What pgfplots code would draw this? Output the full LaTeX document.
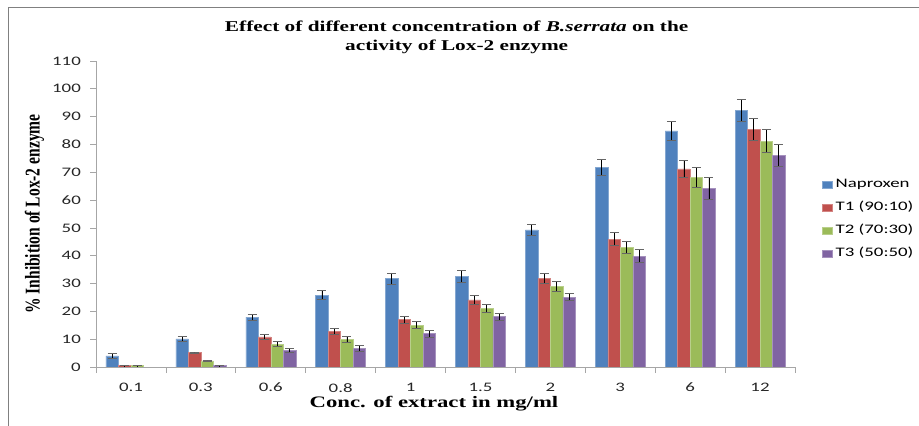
\documentclass[border=0pt]{standalone}
\usepackage{pgfplots}
\usepackage{pgfplotstable}
\pgfplotsset{compat=1.18}
\usepackage{fontspec}
\setmainfont{Liberation Serif}
\newfontfamily\tickfont[FakeStretch=1.45]{Carlito}
\newfontfamily\titlefont[FakeStretch=1.42]{Liberation Serif}
\newfontfamily\ylabfont[FakeStretch=0.74]{Liberation Serif}

\definecolor{cblue}{HTML}{4F81BD}
\definecolor{cred}{HTML}{C0504D}
\definecolor{cgreen}{HTML}{9BBB59}
\definecolor{cpurple}{HTML}{8064A2}

% x = category index (0.1, 0.3, ..., 12 mg/ml), y = % inhibition, err = error
\pgfplotstableread{
x y err
0 4.0 0.8
1 10.1 0.8
2 17.9 1.0
3 25.8 1.6
4 31.8 2.0
5 32.6 2.2
6 49.3 2.0
7 71.7 2.9
8 84.9 3.5
9 92.2 4.0
}\naproxen
\pgfplotstableread{
x y err
0 0.5 0.1
1 5.2 0.15
2 10.8 0.8
3 12.8 1.0
4 17.0 1.2
5 24.1 1.5
6 31.9 1.8
7 46.0 2.3
8 71.2 3.2
9 85.3 4.0
}\tone
\pgfplotstableread{
x y err
0 0.5 0.1
1 2.2 0.15
2 8.2 0.9
3 10.0 1.0
4 15.0 1.3
5 21.1 1.4
6 28.9 1.9
7 43.1 2.2
8 68.2 3.5
9 81.2 4.2
}\ttwo
\pgfplotstableread{
x y err
0 0.0 0.0
1 0.5 0.1
2 5.9 0.8
3 6.7 1.0
4 12.0 1.2
5 18.1 1.2
6 25.1 1.3
7 39.9 2.4
8 64.1 4.0
9 76.0 4.0
}\tthree

\begin{document}
\begin{tikzpicture}
\useasboundingbox (0,0) rectangle (919bp,426bp);
\draw[gray, line width=1.5bp] (8.5bp,0) -- (8.5bp,418.5bp) -- (919bp,418.5bp);
\begin{axis}[
    at={(96bp,59bp)}, anchor=south west,
    scale only axis,
    width=699bp, height=306bp,
    ybar=0pt, bar width=12.5bp,
    xmin=-0.5, xmax=9.5,
    ymin=0, ymax=110,
    ytick={0,10,...,110},
    xtick={-0.5,0.5,...,9.5},
    x tick label as interval,
    xticklabels={0.1,0.3,0.6,0.8,1,1.5,2,3,6,12},
    axis x line*=bottom, axis y line*=left,
    axis line style={gray!70, line width=0.8bp},
    tick style={gray!70, line width=0.8bp},
    tick align=outside, major tick length=6bp,
    /pgf/number format/assume math mode=true,
    ticklabel style={font=\tickfont\fontsize{13bp}{15bp}\selectfont, text=black!85},
    yticklabel style={anchor=east, inner sep=0pt, xshift=-9bp},
    xticklabel style={anchor=north, inner sep=0pt, yshift=-10bp},
    title={Effect of different concentration of \textit{B.serrata} on the\\activity of Lox-2 enzyme},
    title style={font=\titlefont\bfseries\fontsize{15bp}{19bp}\selectfont,
        align=center, at={(axis description cs:0.516,1)}, anchor=north,
        inner sep=0pt, yshift=34bp},
    xlabel={Conc. of extract in mg/ml},
    xlabel style={font=\titlefont\bfseries\fontsize{16bp}{18bp}\selectfont,
        at={(axis description cs:0.4835,0)}, anchor=base, inner sep=0pt, yshift=-40bp},
    ylabel={\% Inhibition of  Lox-2 enzyme},
    ylabel style={font=\ylabfont\bfseries\fontsize{21bp}{22bp}\selectfont,
        at={(axis description cs:-0.088,0.5)}, anchor=center, inner sep=0pt},
    legend style={at={(axis description cs:1,0.484)}, anchor=west, xshift=24bp,
        draw=none, fill=none,
        font=\tickfont\fontsize{13bp}{15bp}\selectfont,
        row sep=11.5bp,
        nodes={inner sep=0pt, text height=9bp, text depth=2.5bp}},
    legend cell align=left,
    legend image code/.code={\fill[#1] (0bp,-3.5bp) rectangle (10bp,3.5bp); \path (13bp,0);},
    error bars/y dir=both, error bars/y explicit,
    error bars/error bar style={black, line width=0.8bp},
    error bars/error mark options={rotate=90, black!60, line width=0.8bp, mark size=4.5bp},
]
\addplot[fill=cblue, draw=cblue!70!white, line width=0.5bp] table[x=x, y=y, y error=err]{\naproxen};
\addplot[fill=cred, draw=cred!70!white, line width=0.5bp] table[x=x, y=y, y error=err]{\tone};
\addplot[fill=cgreen, draw=cgreen!70!white, line width=0.5bp] table[x=x, y=y, y error=err]{\ttwo};
\addplot[fill=cpurple, draw=cpurple!70!white, line width=0.5bp] table[x=x, y=y, y error=err]{\tthree};
\legend{Naproxen, T1 (90:10), T2 (70:30), T3 (50:50)}
\end{axis}
\end{tikzpicture}
\end{document}
